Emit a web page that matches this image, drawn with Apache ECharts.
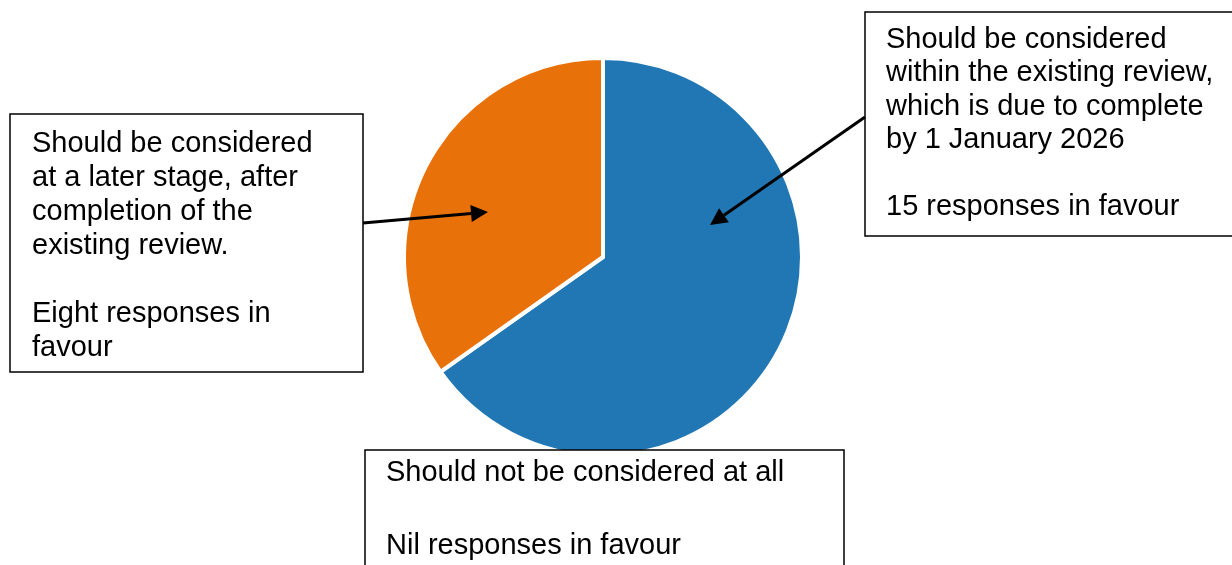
<!DOCTYPE html>
<html>
<head>
<meta charset="utf-8">
<script src="https://cdn.jsdelivr.net/npm/echarts@6/dist/echarts.min.js"></script>
<style>html,body{margin:0;padding:0;background:#fff}#c{width:1232px;height:565px}</style>
</head>
<body>
<div id="c"></div>
<script>
const categories = [
  'Should be considered within the existing review, which is due to complete by 1 January 2026',
  'Should be considered at a later stage, after completion of the existing review.',
  'Should not be considered at all'
];
const values = [15, 8, 0];
const colors = ['#2177B4', '#E8710A', '#999999'];
const boxTexts = [
  'Should be considered\nwithin the existing review,\nwhich is due to complete\nby 1 January 2026\n\n15 responses in favour',
  'Should be considered\nat a later stage, after\ncompletion of the\nexisting review.\n\nEight responses in\nfavour',
  'Should not be considered at all\n\nNil responses in favour'
];

const chart = echarts.init(document.getElementById('c'), null, {renderer: 'canvas'});
const FONT = 'Liberation Sans, Arial, sans-serif';

function box(x, y, w, h, text, tx, ty, lh) {
  return [
    {type: 'rect', z: 100, shape: {x: x, y: y, width: w, height: h},
     style: {fill: '#fff', stroke: '#000', lineWidth: 1.5}},
    {type: 'text', z: 101, x: tx, y: ty,
     style: {text: text, font: '29px ' + FONT, fill: '#000', lineHeight: lh, textVerticalAlign: 'top'}}
  ];
}
function arrow(x1, y1, x2, y2) {
  const a = Math.atan2(y2 - y1, x2 - x1);
  const L = 17, W = 8.5;
  const bx = x2 - L * Math.cos(a), by = y2 - L * Math.sin(a);
  const px = -Math.sin(a) * W, py = Math.cos(a) * W;
  return [
    {type: 'line', z: 102, shape: {x1: x1, y1: y1, x2: bx, y2: by},
     style: {stroke: '#000', lineWidth: 3}},
    {type: 'polygon', z: 102, shape: {points: [[x2, y2], [bx + px, by + py], [bx - px, by - py]]},
     style: {fill: '#000'}}
  ];
}

const graphics = [].concat(
  box(865, 12, 400, 224, boxTexts[0], 886, 23, 33.5),
  box(10, 114, 353, 258, boxTexts[1], 32, 127, 34),
  box(365, 450, 479, 140, boxTexts[2], 386, 455, 36.5),
  arrow(363, 223, 488, 212),
  arrow(865, 117, 710, 225)
);

chart.setOption({
  animation: false,
  series: [{
    type: 'pie',
    center: [603, 257],
    radius: 199,
    startAngle: 90,
    clockwise: true,
    label: {show: false},
    labelLine: {show: false},
    emphasis: {disabled: true},
    data: categories.map((c, i) => ({
      name: c, value: values[i],
      itemStyle: {color: colors[i], borderColor: '#fff', borderWidth: values[i] > 0 ? 4 : 0}
    }))
  }],
  graphic: graphics
});
</script>
</body>
</html>
